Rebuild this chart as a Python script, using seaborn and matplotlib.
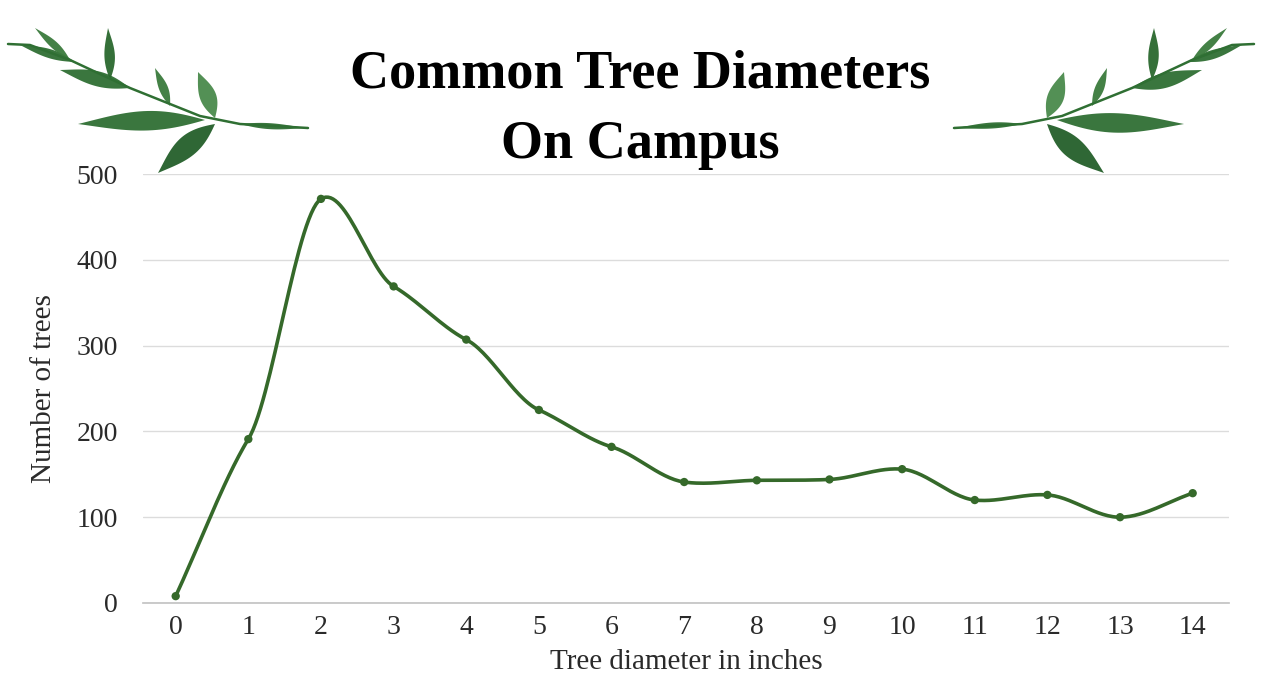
import numpy as np
import pandas as pd
import matplotlib
matplotlib.use("Agg")
import matplotlib.pyplot as plt
from matplotlib.patches import Polygon
import seaborn as sns

# data
diameters = list(range(15))
tree_counts = [8, 191, 471, 369, 307, 225, 182, 141, 143, 144, 156, 120, 126, 100, 128]
y_ticks = [0, 100, 200, 300, 400, 500]

LINE_GREEN = "#35692a"
LEAF_GREEN = "#2f6f33"


def cardinal(x, y, scale=0.6, n=30):
    # smooth curve through the data points (drawing only)
    x = np.asarray(x, float)
    y = np.asarray(y, float)
    m = np.zeros_like(y)
    m[1:-1] = scale * (y[2:] - y[:-2]) / (x[2:] - x[:-2])
    m[0] = (y[1] - y[0]) / (x[1] - x[0])
    m[-1] = (y[-1] - y[-2]) / (x[-1] - x[-2])
    t = np.linspace(0, 1, n, endpoint=False)
    h00 = 2 * t ** 3 - 3 * t ** 2 + 1
    h10 = t ** 3 - 2 * t ** 2 + t
    h01 = -2 * t ** 3 + 3 * t ** 2
    h11 = t ** 3 - t ** 2
    xs, ys = [], []
    for i in range(len(x) - 1):
        h = x[i + 1] - x[i]
        xs.append(x[i] + t * h)
        ys.append(h00 * y[i] + h10 * h * m[i] + h01 * y[i + 1] + h11 * h * m[i + 1])
    xs.append([x[-1]])
    ys.append([y[-1]])
    return np.concatenate(xs), np.concatenate(ys)


def leaf(fig, base, tip, width, color=LEAF_GREEN, alpha=0.95):
    # lens-shaped leaf in pixel coords (origin top-left)
    b = np.array(base, float)
    t = np.array(tip, float)
    d = t - b
    L = np.hypot(*d)
    u = d / L
    nrm = np.array([-u[1], u[0]])
    s = np.linspace(0, 1, 30)
    w = width * np.sin(np.pi * s) * (1 - 0.35 * s)
    upper = b + np.outer(s * L, u) + np.outer(w, nrm)
    lower = b + np.outer(s * L, u) - np.outer(w * 0.8, nrm)
    pts = np.vstack([upper, lower[::-1]])
    pts[:, 0] /= 1262
    pts[:, 1] = 1 - pts[:, 1] / 694
    fig.patches.append(Polygon(pts, closed=True, transform=fig.transFigure,
                               facecolor=color, edgecolor="none", alpha=alpha))


def stem(fig, pts, lw=1.8):
    pts = np.array(pts, float)
    fig.lines.append(plt.Line2D(pts[:, 0] / 1262, 1 - pts[:, 1] / 694,
                                transform=fig.transFigure, color=LEAF_GREEN, lw=lw))


def branch(fig, mirror=False):
    def m(p):
        return (1262 - p[0], p[1]) if mirror else p
    stem(fig, [m(p) for p in [(308, 128), (240, 124), (200, 116), (130, 88), (70, 60), (30, 45), (8, 44)]])
    leaves = [
        ((240, 124), (305, 128), 4, "#2f6f33"),
        ((215, 124), (158, 173), 14, "#245f2a"),
        ((205, 120), (78, 124), 13, "#2f6f33"),
        ((215, 118), (198, 72), 11, "#4a8a4c"),
        ((170, 106), (155, 68), 6, "#3a7a3c"),
        ((130, 88), (60, 70), 10, "#2f6f33"),
        ((110, 80), (108, 28), 7, "#2a682e"),
        ((75, 62), (20, 45), 6, "#2f6f33"),
        ((70, 60), (35, 28), 5, "#3a7a3c"),
    ]
    for b, t, w, c in leaves:
        leaf(fig, m(b), m(t), w, color=c)


sns.set_theme(style="whitegrid")
plt.rcParams["font.family"] = ["Liberation Serif", "DejaVu Serif"]

fig = plt.figure(figsize=(12.62, 6.94), dpi=100)
ax = fig.add_axes([143 / 1262, 1 - 603 / 694, (1229 - 143) / 1262, (603 - 174) / 694])

sx, sy = cardinal(diameters, tree_counts)
smooth = pd.DataFrame({"x": sx, "y": sy})
pts = pd.DataFrame({"x": diameters, "y": tree_counts})
sns.lineplot(data=smooth, x="x", y="y", ax=ax, color=LINE_GREEN, lw=2.6, sort=False)
sns.scatterplot(data=pts, x="x", y="y", ax=ax, color=LINE_GREEN, s=36, edgecolor="none", zorder=3)

ax.set_xlim(-0.45, 14.5)
ax.set_ylim(0, 500)
ax.set_xticks(diameters)
ax.set_yticks(y_ticks)
ax.tick_params(axis="both", labelsize=20, colors="#2a2a2a", length=0)
ax.tick_params(axis="x", pad=9)
ax.tick_params(axis="y", pad=18)
ax.grid(axis="x", visible=False)
ax.grid(axis="y", color="#dcdcdc", lw=1)
for side in ["left", "right", "top"]:
    ax.spines[side].set_visible(False)
ax.spines["bottom"].set_color("#c4c4c4")
ax.set_facecolor("white")
ax.set_xlabel("Tree diameter in inches", fontsize=21, color="#2a2a2a", labelpad=6)
ax.set_ylabel("Number of trees", fontsize=21, color="#2a2a2a", labelpad=14)

fig.text(0.507, 1 - 74 / 694, "Common Tree Diameters", ha="center", va="center",
         fontsize=39, fontweight="bold", color="black")
fig.text(0.507, 1 - 145 / 694, "On Campus", ha="center", va="center",
         fontsize=39, fontweight="bold", color="black")

branch(fig)
branch(fig, mirror=True)

fig.savefig("out.png", dpi=100, facecolor="white")
